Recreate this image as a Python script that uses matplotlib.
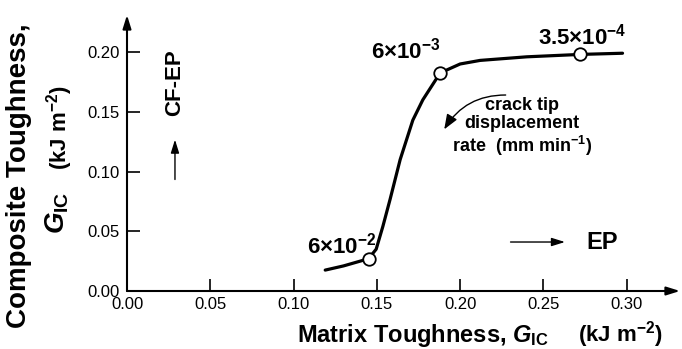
import matplotlib
matplotlib.use("Agg")
from matplotlib import pyplot as plt

# values
curve_x = [0.119, 0.130, 0.140, 0.145, 0.1496, 0.1536, 0.158, 0.164, 0.1716,
           0.1776, 0.188, 0.200, 0.212, 0.240, 0.272, 0.2975]
curve_y = [0.0175, 0.021, 0.025, 0.027, 0.035, 0.054, 0.077, 0.110, 0.143,
           0.160, 0.1825, 0.190, 0.193, 0.196, 0.198, 0.199]
point_x = [0.145, 0.188, 0.272]
point_y = [0.027, 0.1825, 0.198]
point_labels = [r'$6{\times}10^{-2}$', r'$6{\times}10^{-3}$', r'$3.5{\times}10^{-4}$']
xticks = [0.00, 0.05, 0.10, 0.15, 0.20, 0.25, 0.30]
yticks = [0.00, 0.05, 0.10, 0.15, 0.20]

plt.rcParams['font.family'] = 'Liberation Sans'
plt.rcParams['mathtext.fontset'] = 'custom'
plt.rcParams['mathtext.rm'] = 'Liberation Sans:bold'
plt.rcParams['mathtext.it'] = 'Liberation Sans:italic:bold'
plt.rcParams['mathtext.bf'] = 'Liberation Sans:bold'

fig = plt.figure(figsize=(6.82, 3.49), dpi=100)
ax = fig.add_axes([127 / 682, 58 / 349, 553 / 682, 276 / 349])
ax.set_xlim(0, 0.332)
ax.set_ylim(0, 0.231)

for s in ax.spines.values():
    s.set_visible(False)
arr = dict(arrowstyle='-|>,head_length=0.8,head_width=0.25', lw=1.5, color='k',
           shrinkA=0, shrinkB=0)
ax.annotate('', xy=(0.332, 0), xytext=(0, 0), arrowprops=arr, annotation_clip=False)
ax.annotate('', xy=(0, 0.231), xytext=(0, 0), arrowprops=arr, annotation_clip=False)

ax.set_xticks(xticks)
ax.set_yticks(yticks)
ax.set_xticklabels(['%.2f' % v for v in xticks])
ax.set_yticklabels(['%.2f' % v for v in yticks])
ax.tick_params(direction='in', length=9, width=1.2, labelsize=12)
ax.tick_params(axis='y', pad=5)
ax.tick_params(axis='x', pad=4)

ax.plot(curve_x, curve_y, color='k', lw=2.3, solid_capstyle='round')
ax.plot(point_x, point_y, 'o', ms=9, mfc='white', mec='k', mew=1.3)

ax.text(0.108, 0.031, point_labels[0], ha='left', va='baseline', fontsize=16)
ax.text(0.188, 0.195, point_labels[1], ha='right', va='baseline', fontsize=16)
ax.text(0.300, 0.206, point_labels[2], ha='right', va='baseline', fontsize=16)

ax.text(0.237, 0.137, 'crack tip\ndisplacement\nrate  (mm min$^{-1}$)', ha='center',
        va='center', fontsize=13, fontweight='bold', linespacing=1.1)
ax.annotate('', xy=(0.1896, 0.1333), xytext=(0.229, 0.164),
            arrowprops=dict(arrowstyle='-|>,head_length=0.9,head_width=0.35', lw=1.0,
                            color='k', connectionstyle='arc3,rad=0.3'))

ax.text(0.0288, 0.1746, 'CF-EP', rotation=90, ha='center', va='center',
        fontsize=16, fontweight='bold')
ax.annotate('', xy=(0.0288, 0.129), xytext=(0.0288, 0.091),
            arrowprops=dict(arrowstyle='-|>,head_length=0.8,head_width=0.25', lw=1.0,
                            color='k'))
ax.annotate('', xy=(0.2646, 0.041), xytext=(0.2286, 0.041),
            arrowprops=dict(arrowstyle='-|>,head_length=0.8,head_width=0.25', lw=1.0,
                            color='k'))
ax.text(0.276, 0.041, 'EP', ha='left', va='center', fontsize=17, fontweight='bold')

fig.text(19 / 682, 1 - 176 / 349, 'Composite Toughness,', rotation=90, ha='center',
         va='center', fontsize=20, fontweight='bold')
fig.text(57 / 682, 1 - 213 / 349, r'$G_{\rm IC}$', rotation=90, ha='center',
         va='center', fontsize=20)
fig.text(60 / 682, 1 - 128 / 349, r'(kJ m$^{-2}$)', rotation=90, ha='center',
         va='center', fontsize=16, fontweight='bold')
fig.text(297 / 682, 1 - 342 / 349, r'Matrix Toughness, $G_{\rm IC}$', ha='left',
         va='baseline', fontsize=17, fontweight='bold')
fig.text(578 / 682, 1 - 342 / 349, r'(kJ m$^{-2}$)', ha='left', va='baseline',
         fontsize=16, fontweight='bold')

fig.savefig('out.png', dpi=100)
